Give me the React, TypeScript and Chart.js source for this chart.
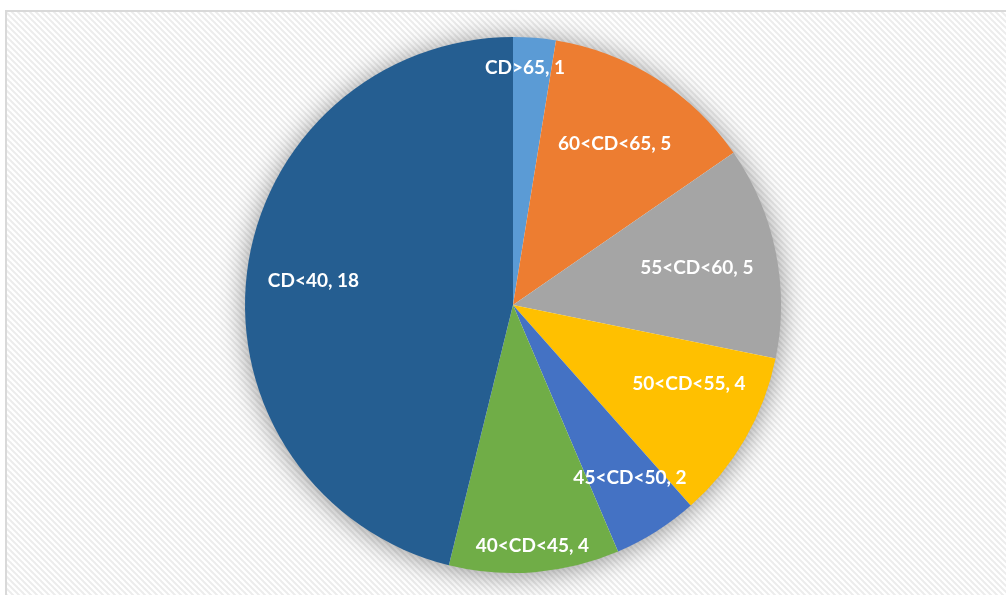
import React, { useEffect, useRef } from "react";
import { Chart, registerables } from "chart.js";

Chart.register(...registerables);

const categories = ["CD>65", "60<CD<65", "55<CD<60", "50<CD<55", "45<CD<50", "40<CD<45", "CD<40"];
const counts = [1, 5, 5, 4, 2, 4, 18];
const sliceColors = ["#5B9BD5", "#ED7D31", "#A5A5A5", "#FFC000", "#4472C4", "#70AD47", "#255E91"];

const labelRadiusFraction = [0.885, 0.71, 0.7, 0.72, 0.78, 0.9, 0.75];
const labelAngleShift = [-0.03, 0, 0, -0.1, -0.03, 0, 0];

function makePattern(ctx: CanvasRenderingContext2D) {
  const p = document.createElement("canvas");
  p.width = 6;
  p.height = 6;
  const c = p.getContext("2d")!;
  c.fillStyle = "#ffffff";
  c.fillRect(0, 0, 6, 6);
  c.strokeStyle = "#ececec";
  c.lineWidth = 2;
  for (let k = -2; k <= 2; k++) {
    c.beginPath();
    c.moveTo(k * 6 - 1, -1);
    c.lineTo(k * 6 + 7, 7);
    c.stroke();
  }
  return ctx.createPattern(p, "repeat")!;
}

const backgroundPlugin = {
  id: "bgPattern",
  beforeDraw(chart: any) {
    const ctx = chart.ctx as CanvasRenderingContext2D;
    ctx.save();
    ctx.fillStyle = "#ffffff";
    ctx.fillRect(0, 0, chart.width, chart.height);
    ctx.fillStyle = makePattern(ctx);
    ctx.fillRect(7, 12, chart.width, chart.height);
    ctx.strokeStyle = "#d9d9d9";
    ctx.lineWidth = 2;
    ctx.beginPath();
    ctx.moveTo(6, chart.height + 5);
    ctx.lineTo(6, 11);
    ctx.lineTo(chart.width + 5, 11);
    ctx.stroke();
    ctx.restore();
  },
};

const shadowPlugin = {
  id: "pieShadow",
  beforeDatasetsDraw(chart: any) {
    const meta = chart.getDatasetMeta(0);
    const arc = meta.data[0];
    if (!arc) return;
    const { x, y, outerRadius } = arc.getProps(["x", "y", "outerRadius"], true);
    const ctx = chart.ctx as CanvasRenderingContext2D;
    ctx.save();
    ctx.shadowColor = "rgba(0,0,0,0.45)";
    ctx.shadowBlur = 28;
    ctx.shadowOffsetX = 0;
    ctx.shadowOffsetY = 2;
    ctx.fillStyle = "#ffffff";
    ctx.beginPath();
    ctx.arc(x, y, outerRadius - 1, 0, Math.PI * 2);
    ctx.fill();
    ctx.restore();
  },
};

const labelPlugin = {
  id: "sliceLabels",
  afterDatasetsDraw(chart: any) {
    const meta = chart.getDatasetMeta(0);
    const ctx = chart.ctx as CanvasRenderingContext2D;
    ctx.save();
    ctx.fillStyle = "#ffffff";
    ctx.font = "bold 19px Lato, 'Open Sans', sans-serif";
    ctx.textAlign = "center";
    ctx.textBaseline = "middle";
    meta.data.forEach((arc: any, i: number) => {
      const { x, y, startAngle, endAngle, outerRadius } = arc.getProps(
        ["x", "y", "startAngle", "endAngle", "outerRadius"],
        true
      );
      const mid = (startAngle + endAngle) / 2 + labelAngleShift[i];
      const r = outerRadius * labelRadiusFraction[i];
      const lx = x + Math.cos(mid) * r;
      const ly = y + Math.sin(mid) * r;
      ctx.fillText(`${categories[i]}, ${counts[i]}`, lx, ly);
    });
    ctx.restore();
  },
};

export default function App() {
  const ref = useRef<HTMLCanvasElement>(null);
  useEffect(() => {
    if (!ref.current) return;
    const chart = new Chart(ref.current, {
      type: "pie",
      data: {
        labels: categories,
        datasets: [
          {
            data: counts,
            backgroundColor: sliceColors,
            borderWidth: 0,
          },
        ],
      },
      options: {
        animation: false,
        responsive: false,
        layout: { padding: { top: 37, bottom: 22, left: 20, right: 0 } },
        plugins: {
          legend: { display: false },
          tooltip: { enabled: false },
        },
      },
      plugins: [backgroundPlugin, shadowPlugin, labelPlugin],
    });
    return () => chart.destroy();
  }, []);
  return (
    <div style={{ position: "fixed", left: 0, top: 0, width: 1006, height: 595 }}>
      <canvas ref={ref} width={1006} height={595} style={{ width: 1006, height: 595, display: "block" }} />
    </div>
  );
}
